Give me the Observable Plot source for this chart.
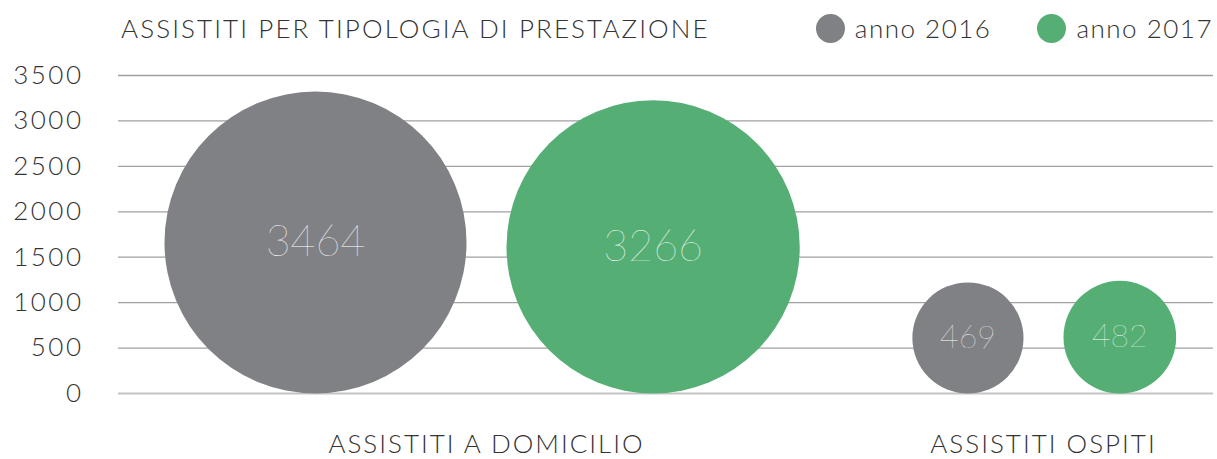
<!DOCTYPE html>
<html>
<head>
<meta charset="utf-8">
<script src="https://cdn.jsdelivr.net/npm/d3@7"></script>
<script src="https://cdn.jsdelivr.net/npm/@observablehq/plot@0.6"></script>
<style>
  html, body { margin: 0; padding: 0; background: #fff; }
  #wrap { width: 1217px; height: 459px; position: relative; font-family: Lato, "Open Sans", sans-serif; color: #333; }
  #header { position: relative; height: 40px; }
  #title { position: absolute; left: 121px; top: 12px; font-size: 26px; font-weight: 300; letter-spacing: 2.1px; white-space: nowrap; }
  #legend { position: absolute; right: 4px; top: 12px; display: flex; align-items: center; font-size: 26px; font-weight: 300; letter-spacing: 1.5px; }
  .item { display: flex; align-items: center; margin-left: 46px; white-space: nowrap; }
  .sw { width: 29px; height: 29px; border-radius: 50%; margin-right: 10px; display: inline-block; }
  #chart svg { overflow: visible; }
  #chart g[aria-label="y-axis tick label"] text { letter-spacing: 2.5px; }
  #chart g[aria-label="x-axis tick label"] text { letter-spacing: 2px; }
</style>
</head>
<body>
<div id="wrap">
  <div id="header"><div id="title"></div><div id="legend"></div></div>
  <div id="chart"></div>
</div>
<script>
const chartTitle = "ASSISTITI PER TIPOLOGIA DI PRESTAZIONE";
const categories = ["ASSISTITI A DOMICILIO", "ASSISTITI OSPITI"];
const years = ["anno 2016", "anno 2017"];
const values2016 = [3464, 469];
const values2017 = [3266, 482];
const yTicks = [0, 500, 1000, 1500, 2000, 2500, 3000, 3500];
const colors = ["#808185", "#55AF75"];

const data = categories.flatMap((c, i) => [
  {category: c, year: years[0], value: values2016[i], k: 0},
  {category: c, year: years[1], value: values2017[i], k: 1}
]);

document.getElementById("title").textContent = chartTitle;
const legend = document.getElementById("legend");
years.forEach((y, i) => {
  const it = document.createElement("div");
  it.className = "item";
  const sw = document.createElement("span");
  sw.className = "sw";
  sw.style.background = colors[i];
  it.appendChild(sw);
  it.appendChild(document.createTextNode(y));
  legend.appendChild(it);
});

const GAP = 40;
function place(i, scales) {
  const d = data[i];
  const r = scales.r(d.value);
  const cx = scales.x(d.category);
  const x = d.k === 0 ? cx - GAP / 2 - r : cx + GAP / 2 + r;
  const y = scales.y(0) - r;
  return {x, y};
}
function packRender(index, scales, values, dimensions, context, next) {
  const X = new Float64Array(data.length), Y = new Float64Array(data.length);
  for (const i of index) { const p = place(i, scales); X[i] = p.x; Y[i] = p.y; }
  return next(index, scales, {...values, x: X, y: Y}, dimensions, context);
}

const chart = Plot.plot({
  width: 1217,
  height: 419,
  marginTop: 35,
  marginBottom: 66,
  marginLeft: 118,
  marginRight: 4,
  style: {fontFamily: "Lato, 'Open Sans', sans-serif", color: "#333", background: "transparent"},
  x: {type: "point", domain: categories, range: [486, 1043], padding: 0},
  y: {domain: [0, 3500]},
  r: {type: "sqrt", domain: [0, 3464], range: [0, 151]},
  color: {domain: years, range: colors},
  marks: [
    Plot.ruleY(yTicks, {stroke: d => d === 0 ? "#c4c4c4" : "#a0a0a0", strokeWidth: d => d === 0 ? 2 : 1.3}),
    Plot.axisY(yTicks, {tickSize: 0, tickPadding: 35, fontSize: 26, fontWeight: 300, fill: "#333", label: null, tickFormat: d => String(d)}),
    Plot.axisX({tickSize: 0, tickPadding: 41, fontSize: 26, fontWeight: 300, fill: "#333", label: null}),
    Plot.dot(data, {x: "category", y: () => 0, r: "value", fill: "year", stroke: null, render: packRender}),
    Plot.text(data, {
      x: "category", y: () => 0, text: d => String(d.value),
      fill: "#ffffff", fontWeight: 200,
      fontSize: d => d.value > 1000 ? 43 : 32,
      render: packRender
    })
  ]
});
document.getElementById("chart").appendChild(chart);
</script>
</body>
</html>
